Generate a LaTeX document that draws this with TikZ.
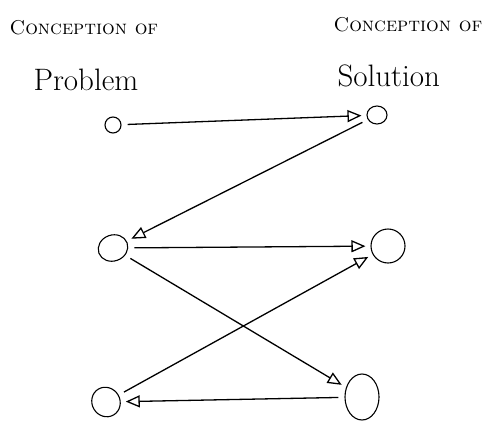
\documentclass[tikz,border=0pt]{standalone}
\usetikzlibrary{arrows.meta,shapes.geometric}
\tikzset{
  state/.style={draw, ellipse, line width=1.1pt, inner sep=0pt},
  link/.style={-{Triangle[open, length=14pt, width=12pt]}, line width=1.3pt, shorten >=5pt, shorten <=6pt},
  title/.style={font=\fontsize{20}{22}\selectfont\scshape, anchor=west},
  big/.style={font=\fontsize{31}{33}\selectfont, anchor=west}
}
\begin{document}
\begin{tikzpicture}[x=1pt, y=-1pt]
    \useasboundingbox (0,0) rectangle (489,423);
    % Headings
    \node[title] (ctop1) at (6,28) {Conception of};
    \node[big] (prob) at (30,80) {Problem};
    \node[title] (ctop2) at (330,25) {Conception of};
    \node[big] (sol) at (334,76) {Solution};

    % Problem side
    \node[state, minimum width=16pt, minimum height=16pt] (p1) at (113,125) {};
    \node[state, minimum width=30pt, minimum height=26pt, rotate=20] (p2) at (113,248) {};
    \node[state, minimum width=28pt, minimum height=30pt, rotate=30] (p3) at (106,402) {};

    % Solution side
    \node[state, minimum width=20pt, minimum height=18pt] (s1) at (377,115) {};
    \node[state, minimum width=34pt, minimum height=34pt] (s2) at (388,246) {};
    \node[state, minimum width=34pt, minimum height=46pt] (s3) at (362,397) {};

    % Arrows
    \draw[link] (p1) -- (s1);
    \draw[link] (s1) -- (p2);
    \draw[link] (p2) -- (s2);
    \draw[link] (p2) -- (s3);
    \draw[link] (p3) -- (s2);
    \draw[link] (s3) -- (p3);
\end{tikzpicture}
\end{document}
